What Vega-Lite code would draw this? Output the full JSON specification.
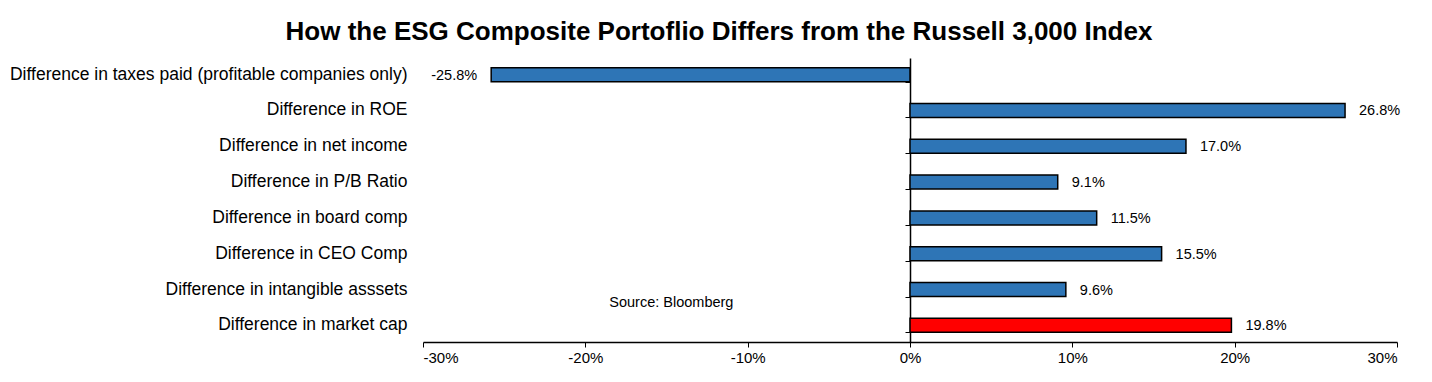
{
  "$schema": "https://vega.github.io/schema/vega-lite/v6.json",
  "width": 974,
  "height": 284,
  "autosize": {"type": "none"},
  "padding": {"left": 423, "top": 58, "right": 35, "bottom": 40},
  "background": "white",
  "config": {
    "view": {"stroke": null},
    "font": "Liberation Sans",
    "text": {"font": "Liberation Sans"},
    "locale": {"number": {"decimal": ".", "thousands": ",", "grouping": [3], "currency": ["$", ""], "minus": "-"}}
  },
  "title": {
    "text": "How the ESG Composite Portoflio Differs from the Russell 3,000 Index",
    "font": "Liberation Sans",
    "fontSize": 26,
    "fontWeight": "bold",
    "color": "black",
    "anchor": "middle",
    "frame": "group",
    "dx": -191,
    "offset": 13
  },
  "data": {
    "values": [
      {"category": "Difference in taxes paid (profitable companies only)", "value": -0.258},
      {"category": "Difference in ROE", "value": 0.268},
      {"category": "Difference in net  income", "value": 0.17},
      {"category": "Difference in P/B Ratio", "value": 0.091},
      {"category": "Difference in board comp", "value": 0.115},
      {"category": "Difference in CEO Comp", "value": 0.155},
      {"category": "Difference in intangible asssets", "value": 0.096},
      {"category": "Difference in  market cap", "value": 0.198}
    ]
  },
  "layer": [
    {
      "mark": {"type": "bar", "stroke": "black", "strokeWidth": 1.5},
      "encoding": {
        "y": {
          "field": "category", "type": "nominal", "sort": null,
          "scale": {"paddingInner": 0.61, "paddingOuter": 0.27},
          "axis": {"orient": "left", "domain": false, "ticks": false, "labelPadding": 16, "labelFontSize": 17.5, "labelColor": "black", "labelLimit": 600, "title": null}
        },
        "x": {
          "field": "value", "type": "quantitative",
          "scale": {"domain": [-0.3, 0.3]},
          "axis": {"orient": "bottom", "format": ".0%", "values": [-0.3, -0.2, -0.1, 0, 0.1, 0.2, 0.3], "grid": false, "domainColor": "black", "domainWidth": 1.5, "tickColor": "black", "tickSize": 5, "labelFontSize": 15, "labelColor": "black", "labelPadding": 3, "title": null}
        },
        "color": {
          "condition": {"test": "datum.category === 'Difference in  market cap'", "value": "#FF0000"},
          "value": "#2E75B6"
        }
      }
    },
    {
      "transform": [{"filter": "datum.value >= 0"}],
      "mark": {"type": "text", "align": "left", "baseline": "middle", "dx": 14, "dy": 1, "fontSize": 14.5, "color": "black"},
      "encoding": {
        "y": {
          "field": "category", "type": "nominal", "sort": null,
          "axis": {"orient": "right", "offset": -487, "labels": false, "domain": true, "domainColor": "black", "domainWidth": 1.5, "ticks": true, "tickBand": "extent", "tickSize": -5, "tickColor": "black", "title": null}
        },
        "x": {"field": "value", "type": "quantitative"},
        "text": {"field": "value", "type": "quantitative", "format": ".1%"}
      }
    },
    {
      "transform": [{"filter": "datum.value < 0"}],
      "mark": {"type": "text", "align": "right", "baseline": "middle", "dx": -14, "dy": 1, "fontSize": 14.5, "color": "black"},
      "encoding": {
        "y": {"field": "category", "type": "nominal", "sort": null, "axis": null},
        "x": {"field": "value", "type": "quantitative"},
        "text": {"field": "value", "type": "quantitative", "format": ".1%"}
      }
    },
    {
      "data": {"values": [{"note": "Source: Bloomberg", "x": -0.147, "category": "Difference in intangible asssets"}]},
      "mark": {"type": "text", "align": "center", "baseline": "middle", "dy": 13, "fontSize": 14.5, "color": "black"},
      "encoding": {
        "y": {"field": "category", "type": "nominal", "sort": null, "axis": null},
        "x": {"field": "x", "type": "quantitative"},
        "text": {"field": "note", "type": "nominal"}
      }
    }
  ],
  "resolve": {"axis": {"y": "independent"}}
}
